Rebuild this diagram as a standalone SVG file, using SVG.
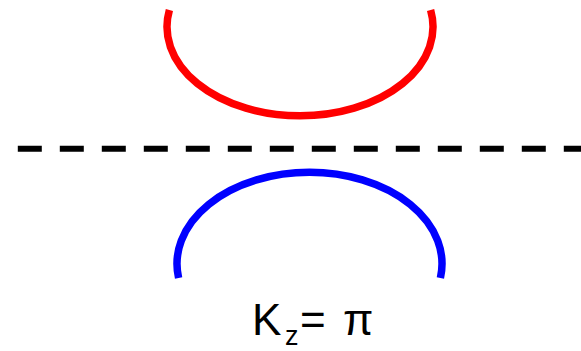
<svg xmlns="http://www.w3.org/2000/svg" width="581" height="351" viewBox="0 0 581 351">
<style>
.arc{fill:none;stroke-width:7.5;stroke-linecap:butt}
.lbl{font-family:"Liberation Sans",Arial,sans-serif;font-size:44px;fill:#000}
</style>
<rect width="581" height="351" fill="#fff"/>
<g id="upper-band">
<path class="arc" stroke="#ff0000" d="M169.4,10 A133,89 0 1 0 430.6,10"/>
</g>
<g id="lower-band">
<path class="arc" stroke="#0000ff" d="M178.6,278 A132.5,91.5 0 1 1 440.4,278"/>
</g>
<g id="connectors">
<line x1="17.8" y1="148.8" x2="581" y2="148.8" stroke="#000" stroke-width="6" stroke-dasharray="24,18"/>
</g>
<g id="label">
<text class="lbl" x="252" y="335">K<tspan x="285" y="344.5" font-size="27">z</tspan><tspan x="300" y="335">=</tspan><tspan x="343" y="335">π</tspan></text>
</g>
</svg>
